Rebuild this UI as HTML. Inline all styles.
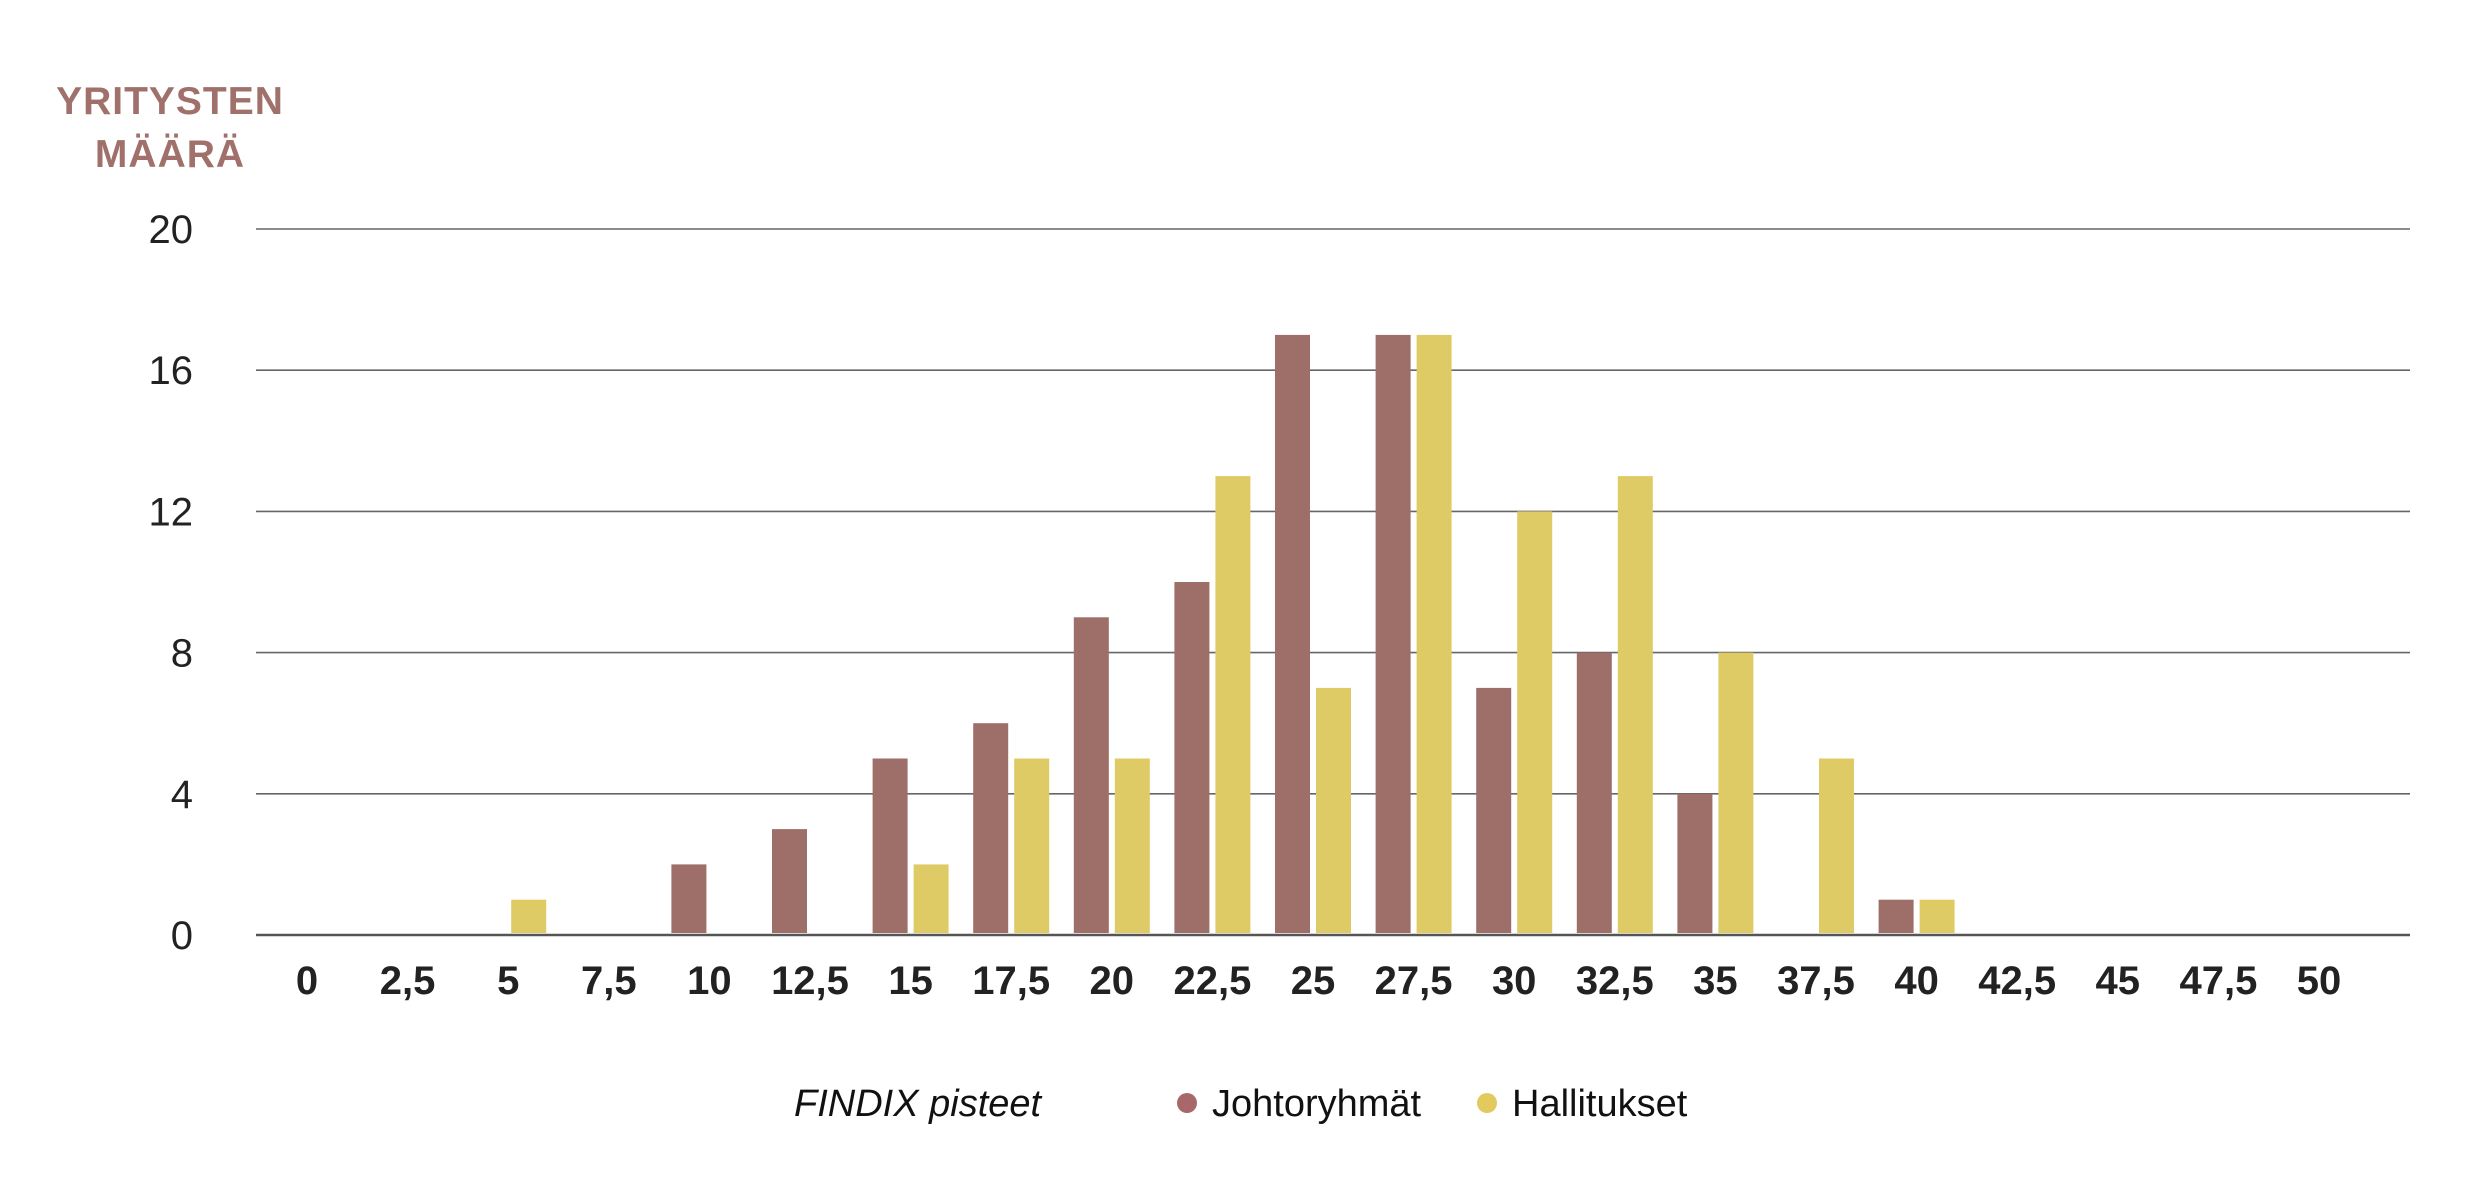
<!DOCTYPE html>
<html><head><meta charset="utf-8"><style>
html,body{margin:0;padding:0;background:#fff;}
body{width:2492px;height:1195px;overflow:hidden;font-family:"Liberation Sans",sans-serif;}
</style></head><body>
<svg id="chart" width="2492" height="1195" viewBox="0 0 2492 1195" xmlns="http://www.w3.org/2000/svg">
<g fill="#a0706b" font-size="39" font-weight="bold" text-anchor="middle" letter-spacing="1">
<text x="170" y="114">YRITYSTEN</text>
<text x="170" y="167">MÄÄRÄ</text>
</g>
<g id="grid"></g>
<g id="bars"></g>
<g id="xlabels"></g>
<g font-size="38">
<text x="794" y="1116" font-style="italic" fill="#111">FINDIX pisteet</text>
<circle cx="1187" cy="1103" r="10" fill="#a8686a"/>
<text x="1212" y="1116" fill="#111">Johtoryhmät</text>
<circle cx="1487" cy="1103" r="10" fill="#e2cb5c"/>
<text x="1512" y="1116" fill="#111">Hallitukset</text>
</g>
</svg>
<script>
const categories = ["0","2,5","5","7,5","10","12,5","15","17,5","20","22,5","25","27,5","30","32,5","35","37,5","40","42,5","45","47,5","50"];
const johtoryhmat = [0,0,0,0,2,3,5,6,9,10,17,17,7,8,4,0,1,0,0,0,0];
const hallitukset = [0,0,1,0,0,0,2,5,5,13,7,17,12,13,8,5,1,0,0,0,0];
const yTicks = [0,4,8,12,16,20];

const NS = "http://www.w3.org/2000/svg";
const y0 = 935, yTop = 229, yMax = 20;
function yScale(v){ return y0 - (v / yMax) * (y0 - yTop); }
const c0 = 307, step = 100.6;
function xScale(i){ return c0 + i * step; }
const barW = 35, gap = 6;

const grid = document.getElementById('grid');
yTicks.forEach(t => {
  const l = document.createElementNS(NS,'line');
  
  
  l.setAttribute('x1',256); l.setAttribute('x2',2410);
  l.setAttribute('y1',yScale(t)); l.setAttribute('y2',yScale(t));
  l.setAttribute('stroke', t === 0 ? '#555' : '#666');
  l.setAttribute('stroke-width', t === 0 ? 2.5 : 1.6);
  grid.appendChild(l);
  const tx = document.createElementNS(NS,'text');
  
  
  tx.setAttribute('x',193); tx.setAttribute('y',yScale(t) + 14);
  tx.setAttribute('text-anchor','end');
  tx.setAttribute('font-size','40');
  tx.setAttribute('fill','#222');
  tx.textContent = t;
  grid.appendChild(tx);
});

const bars = document.getElementById('bars');
function addBar(i, v, color, left, name){
  if (v <= 0) return;
  const r = document.createElementNS(NS,'rect');
  
  
  const cx = xScale(i);
  r.setAttribute('x', left ? cx - gap/2 - barW : cx + gap/2);
  r.setAttribute('y', yScale(v));
  r.setAttribute('width', barW);
  r.setAttribute('height', y0 - 2 - yScale(v));
  r.setAttribute('fill', color);
  bars.appendChild(r);
}
categories.forEach((c,i) => {
  addBar(i, johtoryhmat[i], '#9e6e69', true, 'johtoryhmat');
  addBar(i, hallitukset[i], '#decb65', false, 'hallitukset');
});

const xl = document.getElementById('xlabels');
categories.forEach((c,i) => {
  const t = document.createElementNS(NS,'text');
  
  
  t.setAttribute('x', xScale(i)); t.setAttribute('y', 994);
  t.setAttribute('text-anchor','middle');
  t.setAttribute('font-size','40');
  t.setAttribute('font-weight','bold');
  t.setAttribute('fill','#222');
  t.textContent = c;
  xl.appendChild(t);
});
</script>
</body></html>
